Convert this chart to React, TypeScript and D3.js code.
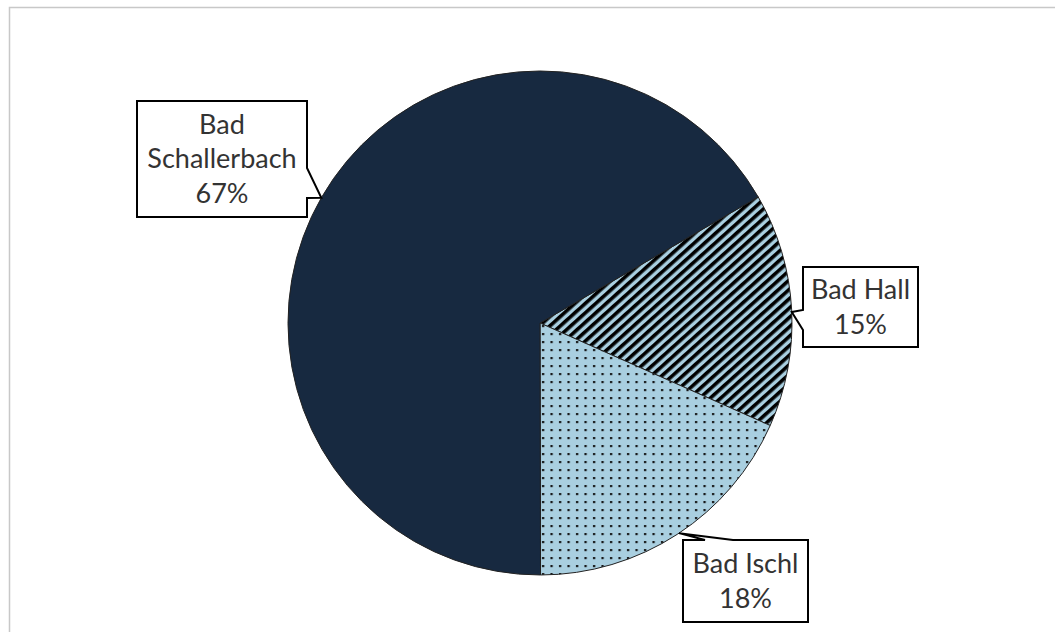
import React, { useEffect, useRef } from "react";
import * as d3 from "d3";

// Anteile der Kurorte (in Prozent)
const categories = ["Bad Hall", "Bad Ischl", "Bad Schallerbach"];
const values = [15.0, 18.3, 66.7];
const labelLines = [["Bad Hall", "15%"], ["Bad Ischl", "18%"], ["Bad", "Schallerbach", "67%"]];

const W = 1055;
const H = 632;
const NAVY = "#172940";
const LIGHT = "#a9cfe0";

// Beschriftungsboxen (Layout)
type Box = { x: number; y: number; w: number; h: number; side: "left" | "right" | "top"; a: number; b: number; tipDeg: number };
const boxes: Box[] = [
    { x: 803, y: 267, w: 115, h: 80, side: "left", a: 310, b: 330, tipDeg: 87.5 },
    { x: 683, y: 540, w: 125, h: 82, side: "top", a: 705, b: 733, tipDeg: 146.5 },
    { x: 137, y: 101, w: 170, h: 116, side: "right", a: 168, b: 198, tipDeg: 299.8 },
];

const App: React.FC = () => {
    const svgRef = useRef<SVGSVGElement | null>(null);

    useEffect(() => {
        if (!svgRef.current) return;
        const svg = d3.select(svgRef.current);
        svg.selectAll("*").remove();

        const cx = 540, cy = 323, r = 252;

        // Muster: Streifen und Punkte
        const defs = svg.append("defs");
        const stripes = defs.append("pattern")
            .attr("id", "stripes")
            .attr("patternUnits", "userSpaceOnUse")
            .attr("width", 10)
            .attr("height", 7)
            .attr("patternTransform", "rotate(-42)");
        stripes.append("rect").attr("width", 10).attr("height", 7).attr("fill", LIGHT);
        stripes.append("rect").attr("width", 10).attr("height", 3.6).attr("fill", "#000");

        const dots = defs.append("pattern")
            .attr("id", "dots")
            .attr("patternUnits", "userSpaceOnUse")
            .attr("width", 8.5)
            .attr("height", 8);
        dots.append("rect").attr("width", 8.5).attr("height", 8).attr("fill", LIGHT);
        dots.append("rect").attr("x", 2).attr("y", 2).attr("width", 2.2).attr("height", 2.2).attr("fill", "#111");

        const fills = ["url(#stripes)", "url(#dots)", NAVY];

        // Rahmen des Diagramms
        svg.append("rect")
            .attr("x", 9.5).attr("y", 7.5)
            .attr("width", W + 20).attr("height", H + 20)
            .attr("fill", "#fff")
            .attr("stroke", "#c8c8c8")
            .attr("stroke-width", 1.5);

        const pie = d3.pie<number>()
            .sort(null)
            .startAngle((60 * Math.PI) / 180)
            .endAngle((420 * Math.PI) / 180);
        const arcs = pie(values);
        const arc = d3.arc<d3.PieArcDatum<number>>().innerRadius(0).outerRadius(r);

        const g = svg.append("g").attr("transform", `translate(${cx},${cy})`);
        g.selectAll("path")
            .data(arcs)
            .enter()
            .append("path")
            .attr("d", arc)
            .attr("fill", (_, i) => fills[i])
            .attr("stroke", "#222")
            .attr("stroke-width", 1);

        // Beschriftungen mit Zeiger
        boxes.forEach((b, i) => {
            const t = (b.tipDeg * Math.PI) / 180;
            const tx = cx + r * Math.sin(t);
            const ty = cy - r * Math.cos(t);
            const x2 = b.x + b.w, y2 = b.y + b.h;
            let d = "";
            if (b.side === "left") {
                d = `M${b.x},${b.y} H${x2} V${y2} H${b.x} V${b.b} L${tx},${ty} L${b.x},${b.a} Z`;
            } else if (b.side === "right") {
                d = `M${b.x},${b.y} H${x2} V${b.a} L${tx},${ty} L${x2},${b.b} V${y2} H${b.x} Z`;
            } else {
                d = `M${b.x},${b.y} H${b.a} L${tx},${ty} L${b.b},${b.y} H${x2} V${y2} H${b.x} Z`;
            }
            svg.append("path")
                .attr("d", d)
                .attr("fill", "#fff")
                .attr("stroke", "#000")
                .attr("stroke-width", 2)
                .attr("stroke-linejoin", "miter");

            const lines = labelLines[i];
            const lh = 34.5;
            const midY = b.y + b.h / 2;
            const text = svg.append("text")
                .attr("text-anchor", "middle")
                .attr("font-family", "Lato, 'Open Sans', sans-serif")
                .attr("font-size", 27)
                .attr("fill", "#333");
            lines.forEach((ln, j) => {
                text.append("tspan")
                    .attr("x", b.x + b.w / 2)
                    .attr("y", midY + (j - (lines.length - 1) / 2) * lh)
                    .attr("dy", "0.35em")
                    .text(ln);
            });
        });
    }, []);

    return (
        <div style={{ position: "absolute", left: 0, top: 0, width: W, height: H, overflow: "hidden", background: "#fff" }}>
            <svg ref={svgRef} width={W} height={H} style={{ display: "block" }} aria-label={categories.join(", ")}></svg>
        </div>
    );
};

export default App;
